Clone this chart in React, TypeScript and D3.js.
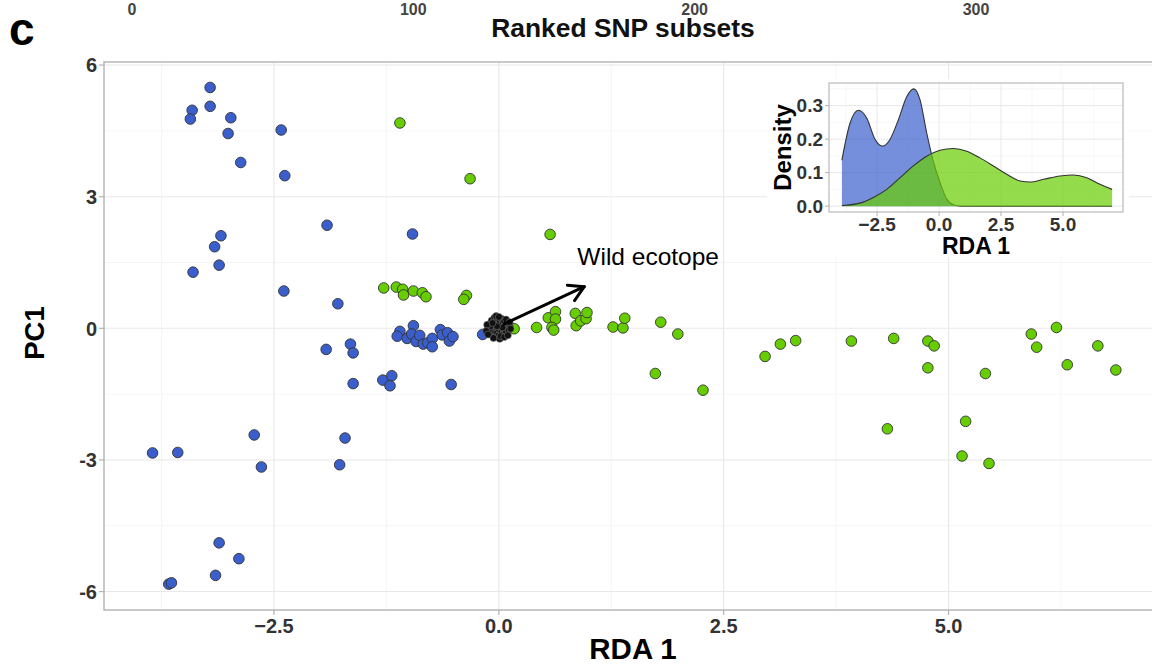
import React from "react";
import * as d3 from "d3";

// RDA scores: [RDA 1, PC1]
const cultivated: [number, number][] = [
  [-3.21, 5.49], [-3.41, 4.97], [-3.21, 5.06], [-3.43, 4.77], [-2.98, 4.8],
  [-3.01, 4.44], [-2.42, 4.52], [-2.87, 3.78], [-2.38, 3.48], [-1.91, 2.35],
  [-0.96, 2.15], [-3.09, 2.11], [-3.16, 1.86], [-3.11, 1.44], [-3.4, 1.28],
  [-2.39, 0.85], [-1.79, 0.56],
  [-0.95, 0.06], [-1.1, -0.07], [-1.13, -0.18], [-1.02, -0.23], [-0.97, -0.13],
  [-0.92, -0.3], [-0.88, -0.16], [-0.84, -0.36], [-0.79, -0.33], [-0.74, -0.23],
  [-0.74, -0.42], [-0.65, -0.03], [-0.63, -0.15], [-0.57, -0.1], [-0.55, -0.29],
  [-0.51, -0.19], [-0.18, -0.14],
  [-1.92, -0.48], [-1.65, -0.36], [-1.62, -0.56], [-1.62, -1.26], [-1.29, -1.18],
  [-1.19, -1.08], [-1.21, -1.31], [-0.53, -1.28],
  [-2.72, -2.43], [-3.57, -2.83], [-3.85, -2.84], [-2.64, -3.16], [-1.71, -2.5],
  [-1.77, -3.11], [-3.11, -4.89], [-2.89, -5.25], [-3.15, -5.63], [-3.67, -5.83],
  [-3.64, -5.8],
];

const landrace: [number, number][] = [
  [-1.1, 4.68], [-0.32, 3.41], [0.57, 2.14],
  [-1.28, 0.92], [-1.14, 0.94], [-1.07, 0.89], [-1.06, 0.76], [-0.95, 0.85],
  [-0.85, 0.81], [-0.81, 0.72], [-0.36, 0.75], [-0.39, 0.66],
  [0.17, -0.01], [0.42, 0.02], [0.55, 0.24], [0.63, 0.38], [0.63, 0.21],
  [0.59, 0.02], [0.61, -0.04], [0.85, 0.34], [0.86, 0.06], [0.91, 0.17],
  [0.97, 0.22], [0.98, 0.36], [1.27, 0.03], [1.38, 0.01], [1.4, 0.23],
  [1.8, 0.14], [1.99, -0.13], [1.74, -1.03], [2.27, -1.41],
  [2.96, -0.64], [3.13, -0.36], [3.3, -0.28], [3.92, -0.29], [4.39, -0.23],
  [4.77, -0.29], [4.84, -0.4], [4.77, -0.9], [5.41, -1.03], [4.32, -2.29],
  [5.19, -2.12], [5.15, -2.91], [5.45, -3.08], [5.92, -0.13], [6.2, 0.02],
  [5.98, -0.43], [6.66, -0.4], [6.32, -0.83], [6.86, -0.95],
];

// Wild accessions, tightly packed near the origin
const wild: [number, number][] = [
  [-0.12, 0.02], [-0.1, 0.1], [-0.1, -0.08], [-0.08, 0.18], [-0.08, 0.0],
  [-0.07, -0.15], [-0.06, 0.08], [-0.05, -0.05], [-0.05, 0.24], [-0.04, 0.14],
  [-0.04, -0.2], [-0.03, 0.02], [-0.02, -0.1], [-0.02, 0.2], [-0.01, 0.08],
  [0.0, -0.02], [0.0, -0.16], [0.01, 0.14], [0.01, -0.24], [0.02, 0.04],
  [0.03, -0.08], [0.03, 0.22], [0.04, 0.1], [0.05, -0.02], [0.05, -0.14],
  [0.06, 0.16], [0.07, 0.05], [0.08, -0.08], [0.09, 0.12], [0.1, 0.0],
  [0.11, -0.04], [0.12, 0.06], [-0.11, -0.04], [-0.09, 0.05], [-0.06, -0.22],
  [-0.03, 0.28], [0.0, 0.26], [0.02, -0.18], [0.06, -0.2], [0.08, 0.2],
  [-0.13, 0.08], [0.13, -0.01], [0.04, 0.02], [-0.02, 0.05], [-0.07, 0.12],
  [-0.14, -0.06], [-0.12, -0.14], [0.1, -0.16], [0.12, 0.14],
];

// Density of RDA 1 per group: [RDA 1, density]
const densityCultivated: [number, number][] = [
  [-3.92, 0.137], [-3.59, 0.248], [-3.25, 0.286], [-2.92, 0.263], [-2.58, 0.199],
  [-2.27, 0.179], [-1.98, 0.199], [-1.64, 0.258], [-1.3, 0.327], [-1.02, 0.35],
  [-0.77, 0.318], [-0.5, 0.219], [-0.25, 0.139], [0.04, 0.07], [0.31, 0.021],
  [0.58, 0.004], [0.9, 0.0], [2.0, 0.0], [4.0, 0.0], [6.98, 0.0],
];
const densityLandrace: [number, number][] = [
  [-3.92, 0.002], [-3.19, 0.009], [-2.65, 0.026], [-2.11, 0.05], [-1.57, 0.085],
  [-1.04, 0.12], [-0.5, 0.149], [0.04, 0.167], [0.58, 0.172], [1.12, 0.164],
  [1.65, 0.144], [2.19, 0.12], [2.73, 0.095], [3.27, 0.075], [3.67, 0.072],
  [4.21, 0.08], [4.88, 0.09], [5.42, 0.093], [5.96, 0.085], [6.49, 0.065],
  [6.98, 0.05],
];

const xTicks = [-2.5, 0, 2.5, 5];
const xMinor = [-3.75, -1.25, 1.25, 3.75, 6.25];
const yTicks = [-6, -3, 0, 3, 6];
const yMinor = [-4.5, -1.5, 1.5, 4.5];
const insetYTicks = [0, 0.1, 0.2, 0.3];
const insetYMinor = [0.05, 0.15, 0.25, 0.35];
const topTicks = [0, 100, 200, 300];

const BLUE = "#3A5FCD";
const GREEN = "#66CD00";
const FONT = "'Liberation Sans', Arial, Helvetica, sans-serif";
const fmt1 = d3.format(".1f");

export default function App() {
  const W = 1152;
  const H = 664;

  // main panel
  const x = d3.scaleLinear().domain([-4.39, 7.44]).range([104, 1168]);
  const y = d3.scaleLinear().domain([-6.42, 6.07]).range([610, 62]);
  const [px0, px1] = x.range();
  const [py1, py0] = y.range();

  // inset panel
  const xi = d3.scaleLinear().domain([-4.44, 7.42]).range([829, 1123]);
  const yi = d3.scaleLinear().domain([-0.0175, 0.3675]).range([212, 83]);
  const [ix0, ix1] = xi.range();
  const [iy1, iy0] = yi.range();

  // ranked SNP subset axis of the panel above
  const xs = d3.scaleLinear().domain([0, 300]).range([132, 976]);

  const area = d3
    .area<[number, number]>()
    .x((d) => xi(d[0]))
    .y0(yi(0))
    .y1((d) => yi(d[1]))
    .curve(d3.curveMonotoneX);
  const line = d3
    .line<[number, number]>()
    .x((d) => xi(d[0]))
    .y((d) => yi(d[1]))
    .curve(d3.curveMonotoneX);

  // arrow toward the wild ecotope direction
  const a0: [number, number] = [0.06, 0.1];
  const a1: [number, number] = [0.95, 0.95];
  const ax0 = x(a0[0]);
  const ay0 = y(a0[1]);
  const ax1 = x(a1[0]);
  const ay1 = y(a1[1]);
  const ang = Math.atan2(ay1 - ay0, ax1 - ax0);
  const headLen = 17;
  const headAng = Math.PI / 6;
  const h1 = [ax1 - headLen * Math.cos(ang - headAng), ay1 - headLen * Math.sin(ang - headAng)];
  const h2 = [ax1 - headLen * Math.cos(ang + headAng), ay1 - headLen * Math.sin(ang + headAng)];

  const tickColor = "#333333";

  return (
    <div style={{ position: "fixed", left: 0, top: 0 }}>
      <svg width={W} height={H} style={{ display: "block", background: "#fff" }} fontFamily={FONT}>
        <rect x={0} y={0} width={W} height={H} fill="#fff" />

        {/* axis of the panel above */}
        {topTicks.map((t) => (
          <text key={t} x={xs(t)} y={15} textAnchor="middle" fontSize={16} fontWeight="bold" fill="#444">
            {t}
          </text>
        ))}
        <text x={623} y={37} textAnchor="middle" fontSize={26.4} fontWeight="bold" fill="#111">
          Ranked SNP subsets
        </text>
        <text x={9} y={45} fontSize={46} fontWeight="bold" fill="#000">
          c
        </text>

        {/* grid */}
        <g>
          {xMinor.map((t) => (
            <line key={"xm" + t} x1={x(t)} x2={x(t)} y1={py0} y2={py1} stroke="#f3f3f3" strokeWidth={0.8} />
          ))}
          {yMinor.map((t) => (
            <line key={"ym" + t} x1={px0} x2={px1} y1={y(t)} y2={y(t)} stroke="#f3f3f3" strokeWidth={0.8} />
          ))}
          {xTicks.map((t) => (
            <line key={"xg" + t} x1={x(t)} x2={x(t)} y1={py0} y2={py1} stroke="#e8e8e8" strokeWidth={1.1} />
          ))}
          {yTicks.map((t) => (
            <line key={"yg" + t} x1={px0} x2={px1} y1={y(t)} y2={y(t)} stroke="#e8e8e8" strokeWidth={1.1} />
          ))}
        </g>

        {/* points */}
        <g stroke="#333" strokeWidth={0.9}>
          {cultivated.map((d, i) => (
            <circle key={"c" + i} cx={x(d[0])} cy={y(d[1])} r={5.3} fill={BLUE} />
          ))}
          {landrace.map((d, i) => (
            <circle key={"l" + i} cx={x(d[0])} cy={y(d[1])} r={5.3} fill={GREEN} />
          ))}
        </g>
        <g stroke="#777" strokeWidth={0.6}>
          {wild.map((d, i) => (
            <circle key={"w" + i} cx={x(d[0])} cy={y(d[1])} r={3.5} fill="#111" />
          ))}
        </g>

        {/* arrow and label */}
        <g stroke="#000" strokeWidth={3} fill="none" strokeLinecap="round" strokeLinejoin="round">
          <line x1={ax0} y1={ay0} x2={ax1} y2={ay1} />
          <polyline points={`${h1[0]},${h1[1]} ${ax1},${ay1} ${h2[0]},${h2[1]}`} />
        </g>
        <text x={x(1.66)} y={y(1.64)} dy="0.35em" textAnchor="middle" fontSize={24.5} fill="#000">
          Wild ecotope
        </text>

        {/* panel border */}
        <rect x={px0} y={py0} width={px1 - px0} height={py1 - py0} fill="none" stroke="#b3b3b3" strokeWidth={1.4} />

        {/* axes */}
        {xTicks.map((t) => (
          <g key={"xt" + t}>
            <line x1={x(t)} x2={x(t)} y1={py1} y2={py1 + 5} stroke="#b3b3b3" strokeWidth={1.2} />
            <text x={x(t)} y={633} textAnchor="middle" fontSize={20} fontWeight="bold" fill={tickColor}>
              {fmt1(t)}
            </text>
          </g>
        ))}
        {yTicks.map((t) => (
          <g key={"yt" + t}>
            <line x1={px0 - 5} x2={px0} y1={y(t)} y2={y(t)} stroke="#b3b3b3" strokeWidth={1.2} />
            <text x={px0 - 7} y={y(t)} dy="0.36em" textAnchor="end" fontSize={20} fontWeight="bold" fill={tickColor}>
              {t}
            </text>
          </g>
        ))}
        <text x={633} y={659} textAnchor="middle" fontSize={29.5} fontWeight="bold" fill="#000">
          RDA 1
        </text>
        <text
          transform={`translate(44,${(py0 + py1) / 2 - 3}) rotate(-90)`}
          textAnchor="middle"
          fontSize={27.5}
          fontWeight="bold"
          fill="#000"
        >
          PC1
        </text>

        {/* inset: density of RDA 1 */}
        <g>
          <rect x={767} y={79} width={362} height={178} fill="#fff" />
          {xMinor.map((t) => (
            <line key={"ixm" + t} x1={xi(t)} x2={xi(t)} y1={iy0} y2={iy1} stroke="#f3f3f3" strokeWidth={0.7} />
          ))}
          {insetYMinor.map((t) => (
            <line key={"iym" + t} x1={ix0} x2={ix1} y1={yi(t)} y2={yi(t)} stroke="#f3f3f3" strokeWidth={0.7} />
          ))}
          {xTicks.map((t) => (
            <line key={"ixg" + t} x1={xi(t)} x2={xi(t)} y1={iy0} y2={iy1} stroke="#e8e8e8" strokeWidth={1} />
          ))}
          {insetYTicks.map((t) => (
            <line key={"iyg" + t} x1={ix0} x2={ix1} y1={yi(t)} y2={yi(t)} stroke="#e8e8e8" strokeWidth={1} />
          ))}

          <path d={area(densityCultivated) ?? ""} fill={BLUE} fillOpacity={0.7} />
          <path d={line(densityCultivated) ?? ""} fill="none" stroke="#333" strokeWidth={1.1} />
          <path d={area(densityLandrace) ?? ""} fill={GREEN} fillOpacity={0.7} />
          <path d={line(densityLandrace) ?? ""} fill="none" stroke="#333" strokeWidth={1.1} />

          <rect x={ix0} y={iy0} width={ix1 - ix0} height={iy1 - iy0} fill="none" stroke="#b3b3b3" strokeWidth={1.1} />

          {xTicks.map((t) => (
            <g key={"ixt" + t}>
              <line x1={xi(t)} x2={xi(t)} y1={iy1} y2={iy1 + 4} stroke="#b3b3b3" strokeWidth={1} />
              <text x={xi(t)} y={231} textAnchor="middle" fontSize={19} fontWeight="bold" fill={tickColor}>
                {fmt1(t)}
              </text>
            </g>
          ))}
          {insetYTicks.map((t) => (
            <g key={"iyt" + t}>
              <line x1={ix0 - 4} x2={ix0} y1={yi(t)} y2={yi(t)} stroke="#b3b3b3" strokeWidth={1} />
              <text x={ix0 - 6} y={yi(t)} dy="0.36em" textAnchor="end" fontSize={19} fontWeight="bold" fill={tickColor}>
                {fmt1(t)}
              </text>
            </g>
          ))}
          <text x={(ix0 + ix1) / 2} y={254} textAnchor="middle" fontSize={23} fontWeight="bold" fill="#000">
            RDA 1
          </text>
          <text
            transform={`translate(791,${(iy0 + iy1) / 2}) rotate(-90)`}
            textAnchor="middle"
            fontSize={24}
            fontWeight="bold"
            fill="#000"
          >
            Density
          </text>
        </g>
      </svg>
    </div>
  );
}
